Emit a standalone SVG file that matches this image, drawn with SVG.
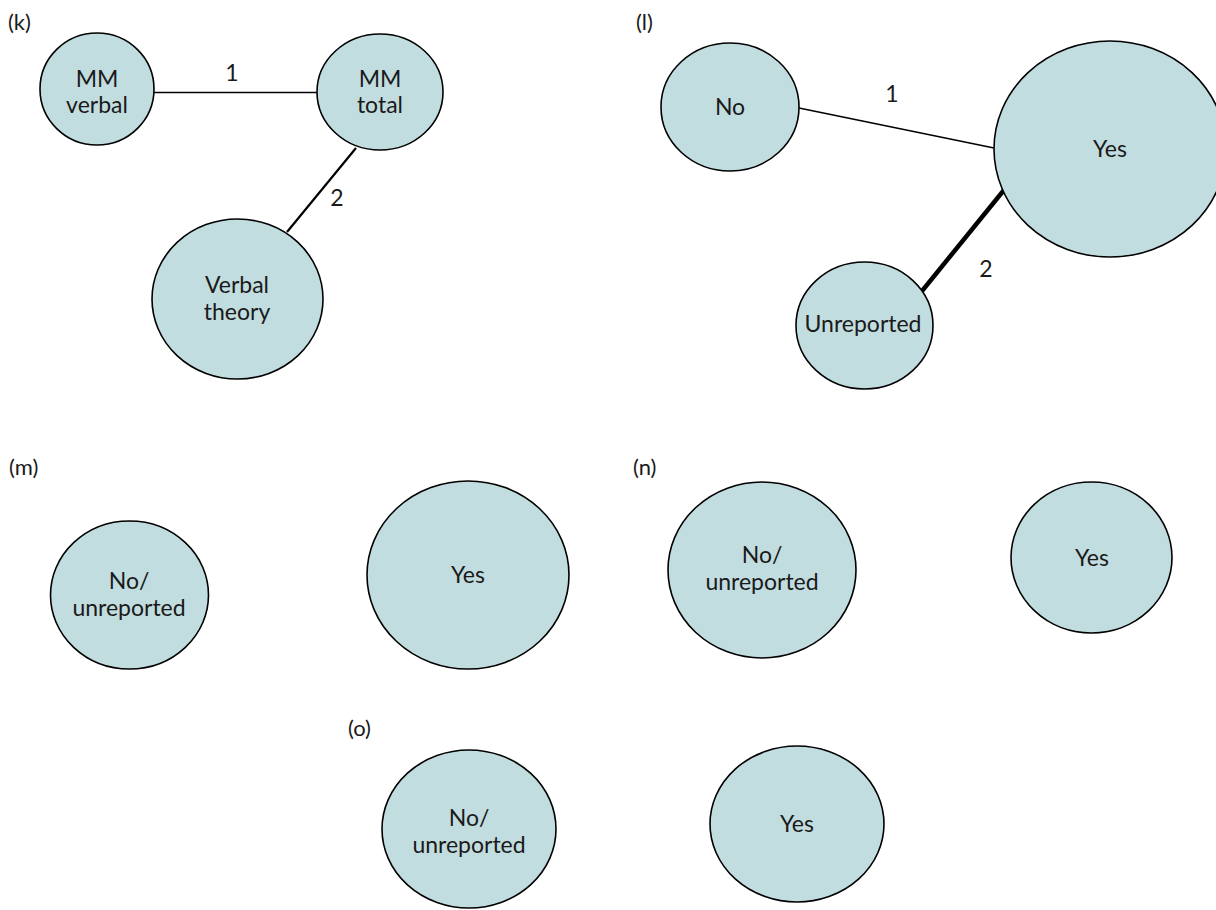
<svg xmlns="http://www.w3.org/2000/svg" width="1216" height="910" viewBox="0 0 1216 910">
<style>
.node{fill:#c2dde0;stroke:#000;stroke-width:1.6}
.t{font-family:Lato,"Open Sans",sans-serif;font-size:23px;fill:#1a1a1a;text-anchor:middle}
.pl{font-family:Lato,"Open Sans",sans-serif;font-size:22px;fill:#1a1a1a}
.e{stroke:#000;fill:none}
</style>
<rect width="1216" height="910" fill="#fff"/>
<g id="panel-labels">
<text class="pl" x="8" y="30">(k)</text>
<text class="pl" x="636" y="30">(l)</text>
<text class="pl" x="9" y="475">(m)</text>
<text class="pl" x="633" y="475">(n)</text>
<text class="pl" x="348" y="736">(o)</text>
</g>
<g id="connectors">
<line class="e" x1="154" y1="92.5" x2="317" y2="92.5" stroke-width="1.6"/>
<text class="t" x="232" y="81">1</text>
<line class="e" x1="356" y1="148" x2="287" y2="232" stroke-width="2.2"/>
<text class="t" x="337" y="206">2</text>
<line class="e" x1="799" y1="108" x2="994" y2="148" stroke-width="1.6"/>
<text class="t" x="892" y="102">1</text>
<line class="e" x1="1004" y1="190" x2="922" y2="291" stroke-width="4.5"/>
<text class="t" x="986" y="277">2</text>
</g>
<g id="k-mm-verbal"><ellipse class="node" cx="97" cy="89" rx="57" ry="56"/><text class="t" x="97" y="87">MM</text><text class="t" x="97" y="113">verbal</text></g>
<g id="k-mm-total"><ellipse class="node" cx="380" cy="92" rx="63" ry="58"/><text class="t" x="380" y="87">MM</text><text class="t" x="380" y="113">total</text></g>
<g id="k-verbal-theory"><ellipse class="node" cx="237.5" cy="299" rx="85.5" ry="80"/><text class="t" x="237" y="293">Verbal</text><text class="t" x="237" y="320">theory</text></g>
<g id="l-no"><ellipse class="node" cx="730" cy="107" rx="69" ry="64"/><text class="t" x="730" y="115">No</text></g>
<g id="l-yes"><ellipse class="node" cx="1110" cy="149" rx="116" ry="108"/><text class="t" x="1110" y="157">Yes</text></g>
<g id="l-unreported"><ellipse class="node" cx="864.5" cy="325.5" rx="68.5" ry="63.5"/><text class="t" x="863" y="332">Unreported</text></g>
<g id="m-no-unreported"><ellipse class="node" cx="129.5" cy="595" rx="79" ry="74"/><text class="t" x="129" y="589">No/</text><text class="t" x="129" y="616">unreported</text></g>
<g id="m-yes"><ellipse class="node" cx="468" cy="575" rx="101" ry="94"/><text class="t" x="468" y="583">Yes</text></g>
<g id="n-no-unreported"><ellipse class="node" cx="762" cy="570" rx="94" ry="88"/><text class="t" x="762" y="563">No/</text><text class="t" x="762" y="590">unreported</text></g>
<g id="n-yes"><ellipse class="node" cx="1091.5" cy="557.5" rx="80.5" ry="75.5"/><text class="t" x="1092" y="566">Yes</text></g>
<g id="o-no-unreported"><ellipse class="node" cx="469" cy="829" rx="87" ry="79"/><text class="t" x="469" y="826">No/</text><text class="t" x="469" y="853">unreported</text></g>
<g id="o-yes"><ellipse class="node" cx="797" cy="824" rx="87" ry="78"/><text class="t" x="797" y="832">Yes</text></g>
</svg>
